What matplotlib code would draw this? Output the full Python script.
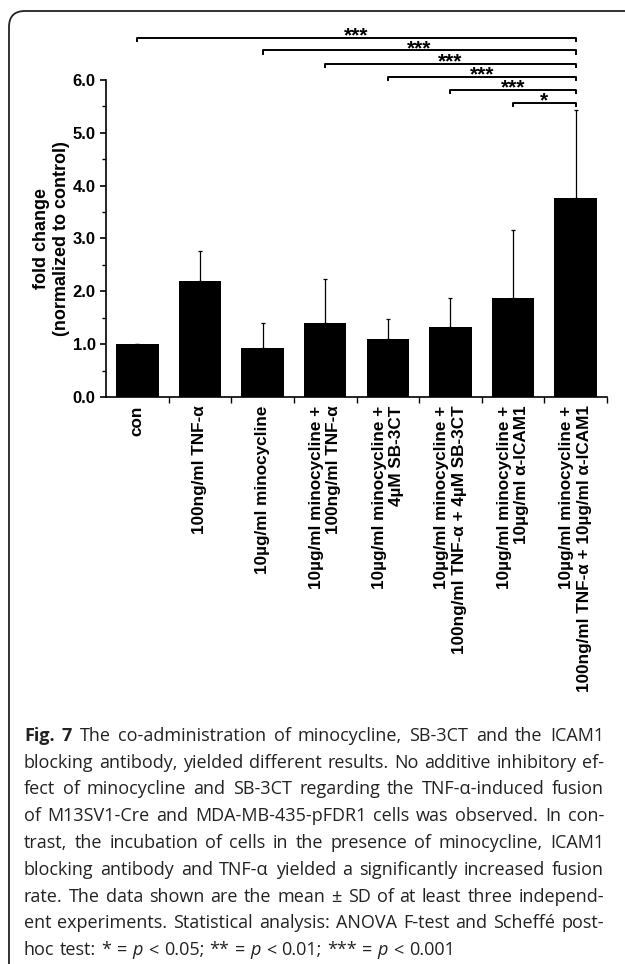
import numpy as np
import matplotlib.pyplot as plt
from matplotlib.patches import FancyBboxPatch
from matplotlib.transforms import IdentityTransform

# data
groups = [
    "con",
    "100ng/ml TNF-α",
    "10µg/ml minocycline",
    "10µg/ml minocycline +\n100ng/ml TNF-α",
    "10µg/ml minocycline +\n4µM SB-3CT",
    "10µg/ml minocycline +\n100ng/ml TNF-α + 4µM SB-3CT",
    "10µg/ml minocycline +\n10µg/ml α-ICAM1",
    "10µg/ml minocycline +\n100ng/ml TNF-α + 10µg/ml α-ICAM1",
]
means = [1.00, 2.20, 0.93, 1.40, 1.09, 1.33, 1.87, 3.77]
sd = [0.00, 0.57, 0.47, 0.83, 0.38, 0.54, 1.29, 1.66]

# significance brackets: (from group, to group, label, height)
sig_from = [0, 2, 3, 4, 5, 6]
sig_to = [7, 7, 7, 7, 7, 7]
sig_text = ["***", "***", "***", "***", "***", "*"]
sig_y = [6.80, 6.56, 6.31, 6.06, 5.81, 5.57]

caption = [
    "Fig. 7 The co-administration of minocycline, SB-3CT and the ICAM1",
    "blocking antibody, yielded different results. No additive inhibitory ef-",
    "fect of minocycline and SB-3CT regarding the TNF-α-induced fusion",
    "of M13SV1-Cre and MDA-MB-435-pFDR1 cells was observed. In con-",
    "trast, the incubation of cells in the presence of minocycline, ICAM1",
    "blocking antibody and TNF-α yielded a significantly increased fusion",
    "rate. The data shown are the mean ± SD of at least three independ-",
    "ent experiments. Statistical analysis: ANOVA F-test and Scheffé post-",
    "hoc test: * = p < 0.05; ** = p < 0.01; *** = p < 0.001",
]

W, H = 625, 964
plt.rcParams['font.family'] = ['Liberation Sans', 'DejaVu Sans']
fig = plt.figure(figsize=(W / 100, H / 100), dpi=100)

# frame round the figure panel
frame = FancyBboxPatch((9, -40), 660, H - 11 + 40,
                       boxstyle="round,pad=0,rounding_size=16",
                       transform=IdentityTransform(), fill=False,
                       edgecolor='#222222', lw=1.3)
fig.patches.append(frame)

ax = fig.add_axes([106 / W, 1 - 397 / H, 501 / W, 317 / H])
x = np.arange(len(groups))
ax.bar(x, means, width=0.68, color='black', zorder=2)
ax.errorbar(x, means, yerr=[np.zeros(len(sd)), sd], fmt='none',
            ecolor='black', elinewidth=0.9, capsize=1.5, capthick=0.9, zorder=1)

ax.set_xlim(-0.5, 7.5)
ax.set_ylim(0, 6)
ax.spines['top'].set_visible(False)
ax.spines['right'].set_visible(False)
ax.spines['left'].set_linewidth(1.2)
ax.spines['bottom'].set_linewidth(1.2)

ax.set_yticks(np.arange(0, 6.1, 1))
ax.set_yticks(np.arange(0.5, 6, 1), minor=True)
ax.set_yticklabels(["%.1f" % v for v in np.arange(0, 6.1, 1)],
                   fontsize=12, fontweight='bold')
ax.tick_params(axis='y', which='major', length=4, width=1.2, direction='out')
ax.tick_params(axis='y', which='minor', length=3, width=1.0, direction='out')

ax.set_xticks(x)
ax.set_xticklabels(groups, rotation=90, ha='center', va='top',
                   multialignment='right', fontsize=12.3, fontweight='bold')
ax.set_xticks(np.arange(0.5, 8, 1), minor=True)
ax.tick_params(axis='x', which='major', length=0, pad=6)
ax.tick_params(axis='x', which='minor', length=4, width=1.0, direction='out')

ax.set_ylabel("fold change\n(normalized to control)", fontsize=13,
              fontweight='bold', labelpad=2)

for a, b, s, h in zip(sig_from, sig_to, sig_text, sig_y):
    ax.plot([a, a, b, b], [h - 0.06, h, h, h - 0.06], color='black',
            lw=1.4, clip_on=False)
    ax.text((a + b) / 2, h - 0.07, s, ha='center', va='baseline',
            fontsize=15, fontweight='bold', clip_on=False)

# justified caption, word by word
cap_font = ['Open Sans', 'DejaVu Sans']
cap_size = 13
left_px, right_px = 24, 604
last_right = 455
base0, step = 741, 26.75
fig.canvas.draw()
rend = fig.canvas.get_renderer()


def word_style(i, j, w):
    if i == 0 and j < 2:
        return {'fontweight': 'bold'}
    if w == 'p':
        return {'fontstyle': 'italic'}
    return {}


def measure(s, **kw):
    t = fig.text(0, 0, s, fontsize=cap_size, family=cap_font, **kw)
    w = t.get_window_extent(rend).width
    t.remove()
    return w


for i, line in enumerate(caption):
    words = line.split(" ")
    styles = [word_style(i, j, w) for j, w in enumerate(words)]
    widths = [measure(w, **st) for w, st in zip(words, styles)]
    end = right_px if i < len(caption) - 1 else last_right
    gap = (end - left_px - sum(widths)) / (len(words) - 1)
    xp = left_px
    yb = H - (base0 + i * step)
    for w, st, wd in zip(words, styles, widths):
        fig.text(xp / W, yb / H, w, fontsize=cap_size, family=cap_font,
                 ha='left', va='baseline', color='#222222', **st)
        xp += wd + gap

fig.savefig("out.png", dpi=100)
